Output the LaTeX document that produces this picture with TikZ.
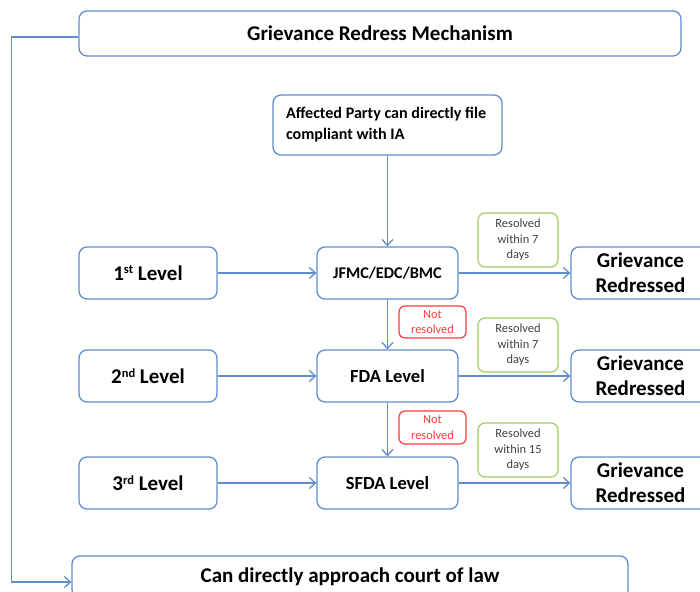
\documentclass[tikz,border=0pt]{standalone}
\usepackage{fontspec}
\setmainfont{Carlito}
\usetikzlibrary{arrows.meta}
\definecolor{bl}{HTML}{5F8DCB}
\definecolor{gr}{HTML}{9BD060}
\definecolor{rd}{HTML}{FF3B3B}
\definecolor{tx}{HTML}{404040}
\newcommand{\supx}[1]{\raisebox{6.5pt}{\fontsize{12.5}{12.5}\selectfont #1}}
\begin{document}
\begin{tikzpicture}[x=1pt,y=-1pt,
  box/.style={draw=bl, line width=1.3pt, rounded corners=8pt, fill=white, align=center, inner sep=0pt},
  bigtxt/.style={font=\fontsize{21}{25}\selectfont\bfseries},
  midtxt/.style={font=\fontsize{18.5}{22}\selectfont\bfseries},
  gbox/.style={draw=gr, line width=1.2pt, rounded corners=7pt, fill=white, align=center, inner sep=0pt,
    minimum width=80pt, minimum height=54pt, text=tx, font=\fontsize{12.4}{15.5}\selectfont},
  rbox/.style={draw=rd, line width=1.2pt, rounded corners=6pt, fill=white, align=center, inner sep=0pt,
    minimum width=67pt, minimum height=33pt, text=rd, font=\fontsize{12.4}{15.5}\selectfont},
  lvl/.style={box, bigtxt, minimum width=138pt, minimum height=52pt},
  mid/.style={box, minimum width=141pt, minimum height=52pt},
  red/.style={box, bigtxt, minimum width=139pt, minimum height=52pt},
  arr/.style={draw=bl, line width=1.3pt, -{Straight Barb[length=6pt,width=11pt,line width=1.3pt]}},
]
\useasboundingbox (0,0) rectangle (700,591);

\node[box, bigtxt, minimum width=602pt, minimum height=45pt] (title) at (380,33.5) {Grievance Redress Mechanism};
\node[box, minimum width=229pt, minimum height=60pt, align=flush left, text width=203pt,
  font=\fontsize{16.1}{21}\selectfont\bfseries] (aff) at (387.5,125)
  {\mbox{Affected Party can directly file}\\compliant with IA};

\node[lvl] (l1) at (148,273) {1\supx{st} Level};
\node[lvl] (l2) at (148,376) {2\supx{nd} Level};
\node[lvl] (l3) at (148,483) {3\supx{rd} Level};

\node[mid, font=\fontsize{16.3}{20}\selectfont\bfseries] (m1) at (387.5,273) {JFMC/EDC/BMC};
\node[mid, midtxt] (m2) at (387.5,376) {FDA Level};
\node[mid, midtxt] (m3) at (387.5,483) {SFDA Level};

\node[red] (r1) at (640.5,273) {Grievance\\Redressed};
\node[red] (r2) at (640.5,376) {Grievance\\Redressed};
\node[red] (r3) at (640.5,483) {Grievance\\Redressed};

\node[gbox] (g1) at (518,240) {Resolved\\within 7\\days};
\node[gbox] (g2) at (518,345) {Resolved\\within 7\\days};
\node[gbox] (g3) at (518,450) {Resolved\\within 15\\days};

\node[rbox, minimum height=32pt] (n1) at (432.5,322) {Not\\resolved};
\node[rbox] (n2) at (432.5,427.5) {Not\\resolved};

\node[box, bigtxt, minimum width=556pt, minimum height=42pt] (court) at (350,577) {Can directly approach court of law};

\draw[arr] (aff.south) -- (m1.north);
\draw[arr] (m1.south) -- (m2.north);
\draw[arr] (m2.south) -- (m3.north);
\draw[arr] (l1.east) -- (m1.west);
\draw[arr] (l2.east) -- (m2.west);
\draw[arr] (l3.east) -- (m3.west);
\draw[arr] (m1.east) -- (r1.west);
\draw[arr] (m2.east) -- (r2.west);
\draw[arr] (m3.east) -- (r3.west);
\draw[arr] ([yshift=-3.5pt]title.west) -| ([xshift=-60pt,yshift=-5pt]court.west) -- ([yshift=-5pt]court.west);
\end{tikzpicture}
\end{document}
